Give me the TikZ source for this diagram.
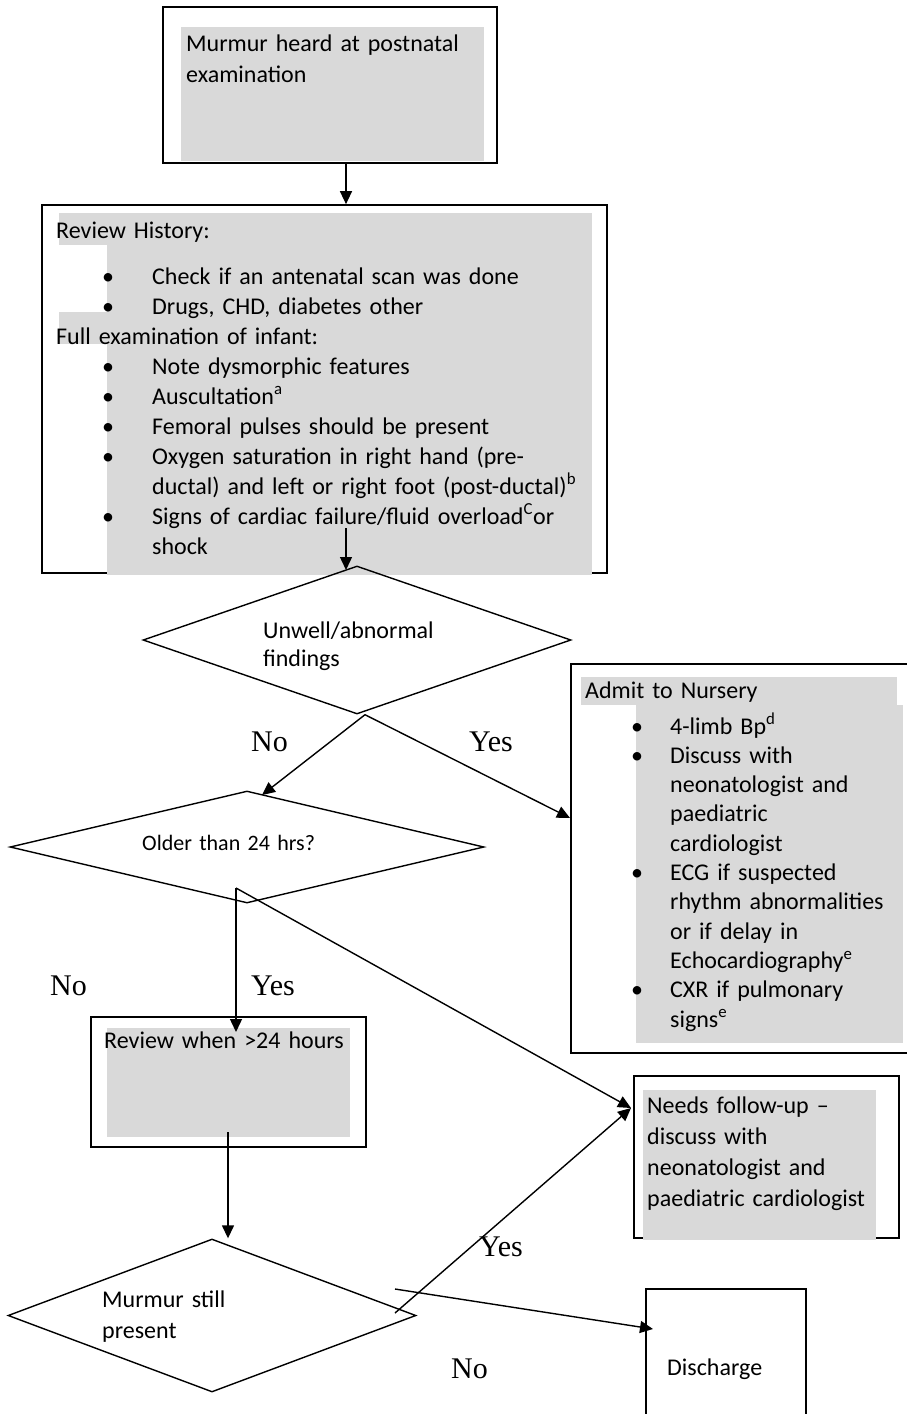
\documentclass[tikz,border=0pt]{standalone}
\usepackage{fontspec}
\setmainfont{Carlito}
\newfontfamily\yesnofont{Liberation Serif}
\usepackage{tikz}
\usetikzlibrary{shapes.geometric,arrows.meta,positioning,calc}
\definecolor{shadegray}{HTML}{D9D9D9}
\newcommand{\sz}[2]{\fontsize{#1}{#2}\selectfont\spaceskip=0.226em plus 0.1em minus 0.05em\relax}
\newcommand{\bulH}{\makebox[96pt][l]{\hspace*{52pt}\makebox[0pt]{\textbullet}}}
\newcommand{\bulA}{\makebox[85pt][l]{\hspace*{52pt}\makebox[0pt]{\textbullet}}}
\tikzset{
  frame/.style={draw,line width=1.7pt,inner sep=0pt},
  dec/.style={diamond,draw,line width=1.4pt,inner sep=0pt},
  txt/.style={anchor=base west,inner sep=0pt,align=left,text width=560pt,font=\sz{24}{30}},
  yn/.style={anchor=base west,inner sep=0pt,font=\yesnofont\fontsize{30}{36}\selectfont},
  arr/.style={-{Triangle[length=13pt,width=12pt]},line width=1.4pt},
  shade/.style={fill=shadegray},
}

\begin{document}
\begin{tikzpicture}[x=1pt,y=-1pt]
  \useasboundingbox (0,0) rectangle (907,1414);
  % boxes
  \node[frame,minimum width=334pt,minimum height=156pt] (start) at (330,85) {};
  \node[frame,minimum width=565pt,minimum height=368pt] (history) at (324.5,389) {};
  \node[frame,minimum width=339pt,minimum height=389pt] (admit) at (740.5,858.5) {};
  \node[frame,minimum width=275pt,minimum height=130pt] (review) at (228.5,1082) {};
  \node[frame,minimum width=265pt,minimum height=162pt] (needs) at (766.5,1157) {};
  \node[frame,minimum width=160pt,minimum height=160pt] (discharge) at (726,1369) {};
  % grey text backgrounds
  \fill[shade] (181,27) rectangle (484,161);
  \fill[shade] (59,213) rectangle (592,245);
  \fill[shade] (107,245) rectangle (592,575);
  \fill[shade] (59,312) rectangle (107,344);
  \fill[shade] (581,677) rectangle (897,705);
  \fill[shade] (636,705) rectangle (903,1043);
  \fill[shade] (107,1028) rectangle (350,1137);
  \fill[shade] (643,1090) rectangle (876,1240);
  % decisions
  \node[dec,minimum width=428pt,minimum height=148pt] (unwell) at (357,640) {};
  \node[dec,minimum width=474pt,minimum height=112pt] (older) at (247,847) {};
  \node[dec,minimum width=408pt,minimum height=153pt] (murmur) at (212,1315.5) {};
  % texts
  \node[txt,font=\sz{24}{31}] (start-txt) at (186,51) {Murmur heard at postnatal\\examination};
  \node[txt] (history-txt) at (56,238) {Review History:\\[16pt]
    \bulH Check if an antenatal scan was done\\
    \bulH Drugs, CHD, diabetes other\\
    Full examination of infant:\\
    \bulH Note dysmorphic features\\
    \bulH Auscultation\textsuperscript{a}\\
    \bulH Femoral pulses should be present\\
    \bulH Oxygen saturation in right hand (pre-\\
    \hspace*{96pt}ductal) and left or right foot (post-ductal)\textsuperscript{b}\\
    \bulH Signs of cardiac failure/fluid overload\textsuperscript{C}or\\
    \hspace*{96pt}shock};
  \node[txt,font=\sz{24}{28}] (unwell-txt) at (263,638) {Unwell/abnormal\\findings};
  \node[txt,font=\sz{24}{29.3}] (admit-txt) at (585,698) {Admit to Nursery\\[6.7pt]
    \bulA 4-limb Bp\textsuperscript{d}\\
    \bulA Discuss with\\
    \hspace*{85pt}neonatologist and\\
    \hspace*{85pt}paediatric\\
    \hspace*{85pt}cardiologist\\
    \bulA ECG if suspected\\
    \hspace*{85pt}rhythm abnormalities\\
    \hspace*{85pt}or if delay in\\
    \hspace*{85pt}Echocardiography\textsuperscript{e}\\
    \bulA CXR if pulmonary\\
    \hspace*{85pt}signs\textsuperscript{e}};
  \node[txt,font=\sz{22}{26}] (older-txt) at (142,850) {Older than 24 hrs?};
  \node[txt] (review-txt) at (104,1048) {Review when >24 hours};
  \node[txt,font=\sz{24}{31}] (needs-txt) at (647,1113) {Needs follow-up –\\discuss with\\neonatologist and\\paediatric cardiologist};
  \node[txt,font=\sz{24}{31}] (murmur-txt) at (102,1307) {Murmur still\\present};
  \node[txt] (discharge-txt) at (667,1375) {Discharge};
  % branch labels
  \node[yn] (no1) at (251,751) {No};
  \node[yn] (yes1) at (469,751) {Yes};
  \node[yn] (no2) at (50,995) {No};
  \node[yn] (yes2) at (251,995) {Yes};
  \node[yn] (yes3) at (479,1256) {Yes};
  \node[yn] (no3) at (451,1378) {No};
  % connector ends
  \coordinate (history-out) at (346,528);
  \coordinate (unwell-in) at (346,570);
  \coordinate (older-in) at (262,795);
  \coordinate (admit-in) at (570,818);
  \coordinate (older-out) at (236,888);
  \coordinate (review-in) at (236,1032);
  \coordinate (needs-in) at (631,1108);
  \coordinate (review-out) at (228,1132);
  \coordinate (murmur-yes) at (395,1313);
  \coordinate (murmur-no) at (395,1289);
  \coordinate (discharge-in) at (653,1329);
  % connectors
  \draw[arr] ([xshift=16pt]start.south) -- ([xshift=16pt]start.south |- history.north);
  \draw[arr] (history-out) -- (unwell-in);
  \draw[arr] ([xshift=8pt]unwell.south) -- (older-in);
  \draw[arr] ([xshift=8pt]unwell.south) -- (admit-in);
  \draw[arr] (older-out) -- (review-in);
  \draw[arr] (older-out) -- (needs-in);
  \draw[arr] (review-out) -- (review-out |- murmur.north);
  \draw[arr] (murmur-yes) -- (needs-in);
  \draw[arr] (murmur-no) -- (discharge-in);
\end{tikzpicture}
\end{document}
